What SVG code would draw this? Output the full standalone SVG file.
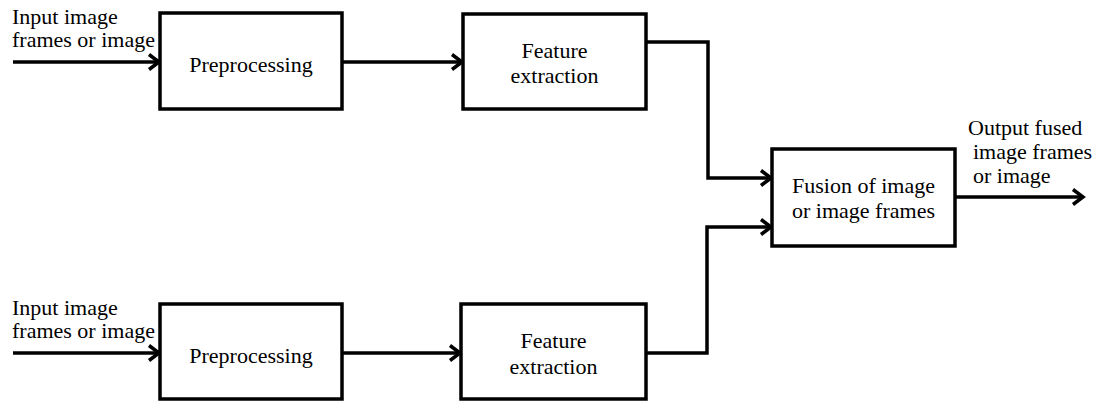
<svg xmlns="http://www.w3.org/2000/svg" width="1102" height="402" viewBox="0 0 1102 402">
  <style>
    .box { fill: #ffffff; stroke: #000000; stroke-width: 3.5; }
    .lbl { font-family: "Liberation Serif", "Times New Roman", serif; font-size: 22px; fill: #000000; }
    .mid { text-anchor: middle; }
    .con { fill: none; stroke: #000000; stroke-width: 3.5; stroke-linejoin: miter; }
  </style>
  <defs>
    <marker id="arrow" markerUnits="userSpaceOnUse" markerWidth="20" markerHeight="20" viewBox="-12 -10 14 20" refX="-1" refY="0" orient="auto">
      <path d="M-10,-7.5 L0,0 L-10,7.5" fill="none" stroke="#000000" stroke-width="3.5" stroke-linecap="butt" stroke-linejoin="miter"/>
    </marker>
  </defs>
  <rect width="1102" height="402" fill="#ffffff"/>

  <g id="connectors">
    <path class="con" d="M13,62 L158,62" marker-end="url(#arrow)"/>
    <path class="con" d="M342,62 L461,62" marker-end="url(#arrow)"/>
    <path class="con" d="M646,42 L708,42 L708,178 L770,178" marker-end="url(#arrow)"/>
    <path class="con" d="M13,353 L158,353" marker-end="url(#arrow)"/>
    <path class="con" d="M342,353 L459,353" marker-end="url(#arrow)"/>
    <path class="con" d="M646,353 L707,353 L707,227 L770,227" marker-end="url(#arrow)"/>
    <path class="con" d="M955,197 L1082,197" marker-end="url(#arrow)"/>
  </g>

  <g id="input-top">
    <text class="lbl" x="12" y="24">Input image</text>
    <text class="lbl" x="12" y="47">frames or image</text>
  </g>
  <g id="input-bottom">
    <text class="lbl" x="12" y="315">Input image</text>
    <text class="lbl" x="12" y="338">frames or image</text>
  </g>

  <g id="preprocessing-top">
    <rect class="box" x="160" y="13" width="182" height="96"/>
    <text class="lbl mid" x="251" y="72">Preprocessing</text>
  </g>
  <g id="feature-top">
    <rect class="box" x="463" y="14" width="183" height="95"/>
    <text class="lbl mid" x="554.5" y="58">Feature</text>
    <text class="lbl mid" x="554.5" y="83">extraction</text>
  </g>
  <g id="preprocessing-bottom">
    <rect class="box" x="160" y="304" width="182" height="95"/>
    <text class="lbl mid" x="251" y="363">Preprocessing</text>
  </g>
  <g id="feature-bottom">
    <rect class="box" x="461" y="304" width="185" height="95"/>
    <text class="lbl mid" x="553.5" y="348">Feature</text>
    <text class="lbl mid" x="553.5" y="374">extraction</text>
  </g>
  <g id="fusion">
    <rect class="box" x="772" y="149" width="183" height="97"/>
    <text class="lbl mid" x="863.5" y="193">Fusion of image</text>
    <text class="lbl mid" x="863.5" y="218">or image frames</text>
  </g>
  <g id="output">
    <text class="lbl" x="968" y="135">Output fused</text>
    <text class="lbl" x="973" y="159">image frames</text>
    <text class="lbl" x="973" y="183">or image</text>
  </g>
</svg>
